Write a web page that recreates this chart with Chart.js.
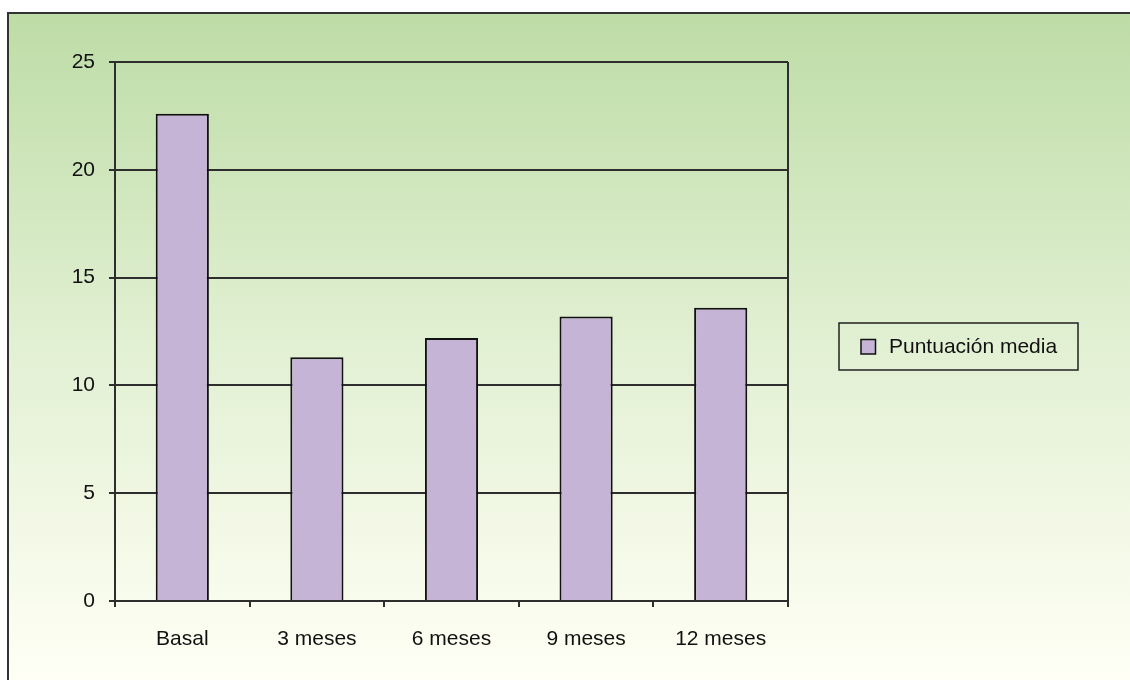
<!DOCTYPE html>
<html>
<head>
<meta charset="utf-8">
<script src="https://cdn.jsdelivr.net/npm/chart.js@4"></script>
<style>
html,body{margin:0;padding:0;background:#fff;}
#wrap{width:1130px;height:680px;}
</style>
</head>
<body>
<div id="wrap"><canvas id="c" width="1130" height="680"></canvas></div>
<script>
const categories = ["Basal", "3 meses", "6 meses", "9 meses", "12 meses"];
const puntuacionMedia = [22.6, 11.3, 12.2, 13.2, 13.6];
const seriesLabel = "Puntuación media";
const yTicks = [0, 5, 10, 15, 20, 25];

const FONT = "'Liberation Sans', Arial, Helvetica, sans-serif";
const LINE = '#2e2e2e';

const bgPlugin = {
  id: 'bg',
  beforeDraw(chart) {
    const ctx = chart.ctx, W = chart.width, H = chart.height;
    ctx.save();
    ctx.fillStyle = '#ffffff';
    ctx.fillRect(0, 0, W, H);
    const g = ctx.createLinearGradient(0, 13, 0, H);
    g.addColorStop(0, '#bddca6');
    g.addColorStop(0.5, '#e2f0d3');
    g.addColorStop(1, '#fffff5');
    ctx.fillStyle = g;
    ctx.fillRect(8, 13, W - 8, H - 13);
    ctx.strokeStyle = '#333';
    ctx.lineWidth = 2;
    ctx.beginPath();
    ctx.moveTo(8, H);
    ctx.lineTo(8, 13);
    ctx.lineTo(W, 13);
    ctx.stroke();
    ctx.restore();
  },
  afterDraw(chart) {
    const ctx = chart.ctx, a = chart.chartArea;
    ctx.save();
    ctx.strokeStyle = LINE;
    ctx.lineWidth = 2;
    ctx.beginPath();
    ctx.moveTo(a.right, a.top);
    ctx.lineTo(a.right, a.bottom + 6);
    ctx.stroke();
    // legend
    const ds = chart.data.datasets[0];
    const bx = 839, by = 323, bw = 239, bh = 47;
    ctx.lineWidth = 1.5;
    ctx.strokeStyle = '#222';
    ctx.strokeRect(bx, by, bw, bh);
    ctx.fillStyle = ds.backgroundColor;
    ctx.fillRect(861, 339.5, 14.5, 14.5);
    ctx.lineWidth = 1.5;
    ctx.strokeStyle = '#111';
    ctx.strokeRect(861, 339.5, 14.5, 14.5);
    ctx.fillStyle = '#111';
    ctx.font = "21px " + FONT;
    ctx.textBaseline = 'middle';
    ctx.textAlign = 'left';
    ctx.fillText(ds.label, 889, 347.5);
    ctx.restore();
  }
};

new Chart(document.getElementById('c'), {
  type: 'bar',
  data: {
    labels: categories,
    datasets: [{
      label: seriesLabel,
      data: puntuacionMedia,
      backgroundColor: '#c5b4d6',
      borderColor: '#111111',
      borderWidth: 2,
      borderSkipped: 'bottom',
      barPercentage: 0.395,
      categoryPercentage: 1.0
    }]
  },
  options: {
    responsive: false,
    animation: false,
    devicePixelRatio: 1,
    layout: { padding: { left: 0, top: 62, right: 342, bottom: 0 } },
    plugins: { legend: { display: false }, tooltip: { enabled: false } },
    scales: {
      x: {
        offset: true,
        grid: { offset: true, drawOnChartArea: false, drawTicks: true, tickLength: 6, color: LINE, lineWidth: 2 },
        border: { display: true, color: LINE, width: 2 },
        ticks: { color: '#111', font: { family: FONT, size: 21 }, padding: 20, maxRotation: 0 },
        afterFit(s) { s.height = 79; }
      },
      y: {
        min: 0, max: 25,
        afterBuildTicks(s) { s.ticks = yTicks.map(v => ({ value: v })); },
        grid: { color: LINE, lineWidth: 2, tickLength: 6, drawTicks: true },
        border: { display: true, color: LINE, width: 2 },
        ticks: { color: '#111', font: { family: FONT, size: 21 }, padding: 14 },
        afterFit(s) { s.width = 115; }
      }
    }
  },
  plugins: [bgPlugin]
});
</script>
</body>
</html>
